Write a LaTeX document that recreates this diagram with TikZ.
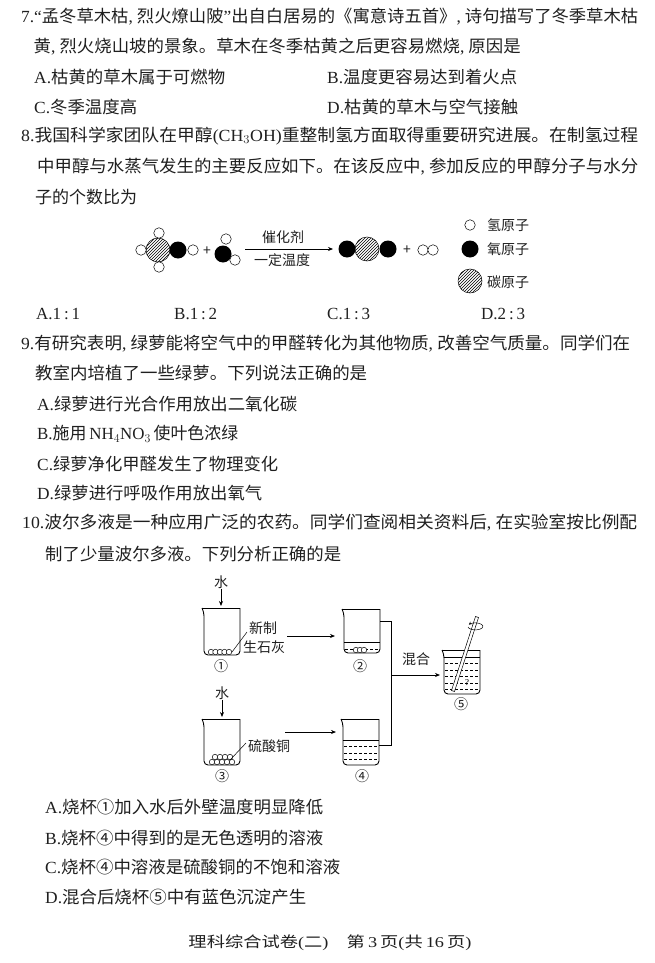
\documentclass[tikz,border=0pt]{standalone}
\usepackage{fontspec}
\usetikzlibrary{patterns,arrows.meta}
\setmainfont{Noto Sans CJK SC}
\newfontfamily\latfont{Liberation Serif}
\newcommand{\lat}[1]{{\latfont #1}}
\newcommand{\cma}{\lat{,}\hspace{4pt}}
\newcommand{\fitw}[2]{\resizebox{#1pt}{\height}{#2}}
\tikzset{
  txt/.style={anchor=west,inner sep=0pt,font=\fontsize{17}{20}\selectfont,text=black!88},
  lab/.style={inner sep=0pt,font=\fontsize{14}{16}\selectfont,text=black!88},
  hatom/.style={circle,draw,fill=white,inner sep=0pt,minimum size=10.5pt,line width=0.5pt},
  oatom/.style={circle,fill=black,inner sep=0pt,minimum size=17pt},
  catom/.style={circle,draw,pattern=north east lines,inner sep=0pt,minimum size=24pt,line width=0.5pt},
  ball/.style={circle,draw,fill=white,inner sep=0pt,minimum size=5.5pt,line width=0.5pt},
  arr/.style={-{Stealth[length=5pt,width=4pt]},line width=0.7pt},
  soln/.style={dashed,dash pattern=on 3pt off 2pt,line width=0.5pt}
}
\newcommand{\beaker}[3]{% left, top, bottom
  \draw[line width=0.9pt] (#1-2,#2) -- (#1+36,#2);
  \draw[line width=0.9pt,rounded corners=4pt] (#1+36,#2) -- (#1+36,#3) -- (#1,#3) -- (#1,#2+4) -- (#1-2,#2);
}
\begin{document}
\begin{tikzpicture}[x=1pt,y=-1pt]
  \useasboundingbox (0,0) rectangle (655,963);

  % question 7
  \node[txt] (q7a) at (21,17) {\fitw{617}{\lat{7.“}孟冬草木枯\cma 烈火燎山陂\lat{”}出自白居易的《寓意诗五首》\cma 诗句描写了冬季草木枯}};
  \node[txt] (q7b) at (33.5,47) {\fitw{487}{黄\cma 烈火烧山坡的景象。草木在冬季枯黄之后更容易燃烧\cma 原因是}};
  \node[txt] (q7c) at (34,77) {\fitw{191}{\lat{A.}枯黄的草木属于可燃物}};
  \node[txt] (q7d) at (327,77) {\fitw{190}{\lat{B.}温度更容易达到着火点}};
  \node[txt] (q7e) at (34,107) {\fitw{103}{\lat{C.}冬季温度高}};
  \node[txt] (q7f) at (327,107) {\fitw{191}{\lat{D.}枯黄的草木与空气接触}};

  % question 8
  \node[txt] (q8a) at (21,136) {\fitw{617}{\lat{8.}我国科学家团队在甲醇\lat{(CH$_3$OH)}重整制氢方面取得重要研究进展。在制氢过程}};
  \node[txt] (q8b) at (37,167) {\fitw{601}{中甲醇与水蒸气发生的主要反应如下。在该反应中\cma 参加反应的甲醇分子与水分}};
  \node[txt] (q8c) at (35,197) {\fitw{102}{子的个数比为}};

  \node[catom] (c1) at (158,250) {};
  \node[oatom] (o1) at (178,250) {};
  \node[hatom] (h1) at (141,250) {};
  \node[hatom] (h2) at (159,233) {};
  \node[hatom] (h3) at (159,267) {};
  \node[hatom] (h4) at (193,250) {};
  \node[lab] (p1) at (207,251) {+};
  \node[oatom] (o2) at (223,254) {};
  \node[hatom] (h5) at (226,239) {};
  \node[hatom] (h6) at (235,260) {};
  \coordinate (rs) at (245,249);
  \coordinate (re) at (333,249);
  \draw[arr] (rs) -- (re);
  \node[lab] (cat) at (283,237) {催化剂};
  \node[lab] (tem) at (282,260) {一定温度};
  \node[oatom] (o3) at (347,249) {};
  \node[oatom] (o4) at (388,249) {};
  \node[catom] (c2) at (367,249) {};
  \node[lab] (p2) at (407,250) {+};
  \node[hatom] (h7) at (423,250) {};
  \node[hatom] (h8) at (433,250) {};
  \node[hatom] (lh) at (470,225) {};
  \node[oatom] (lo) at (470,249) {};
  \node[catom] (lc) at (470,281) {};
  \node[lab] (lht) at (508,225) {氢原子};
  \node[lab] (lot) at (508,249) {氧原子};
  \node[lab] (lct) at (508,282) {碳原子};

  \node[txt] (a8a) at (36,314) {\lat{A.1\,:\,1}};
  \node[txt] (a8b) at (174,314) {\lat{B.1\,:\,2}};
  \node[txt] (a8c) at (327,314) {\lat{C.1\,:\,3}};
  \node[txt] (a8d) at (481,314) {\lat{D.2\,:\,3}};

  % question 9
  \node[txt] (q9a) at (21,344) {\fitw{609}{\lat{9.}有研究表明\cma 绿萝能将空气中的甲醛转化为其他物质\cma 改善空气质量。同学们在}};
  \node[txt] (q9b) at (35,373) {\fitw{332}{教室内培植了一些绿萝。下列说法正确的是}};
  \node[txt] (q9c) at (37,404) {\fitw{260}{\lat{A.}绿萝进行光合作用放出二氧化碳}};
  \node[txt] (q9d) at (37,434) {\fitw{201}{\lat{B.}施用\,\lat{NH$_4$NO$_3$}\,使叶色浓绿}};
  \node[txt] (q9e) at (37,464) {\fitw{241}{\lat{C.}绿萝净化甲醛发生了物理变化}};
  \node[txt] (q9f) at (37,493) {\fitw{225}{\lat{D.}绿萝进行呼吸作用放出氧气}};

  % question 10
  \node[txt] (q10a) at (22,523) {\fitw{615}{\lat{10.}波尔多液是一种应用广泛的农药。同学们查阅相关资料后\cma 在实验室按比例配}};
  \node[txt] (q10b) at (45,554) {\fitw{296}{制了少量波尔多液。下列分析正确的是}};

  % beakers
  \beaker{204}{608}{655}
  \beaker{344}{609}{653}
  \beaker{204}{719}{765}
  \beaker{343}{719}{765}
  \beaker{444}{650}{694}

  \node[lab] (w1) at (221,582) {水};
  \coordinate (w1e) at (221,606);
  \draw[arr] (w1) -- (w1e);
  \foreach \x in {211,215.5,220,224.5,229} \node[ball] at (\x,652) {};
  \coordinate (l1a) at (232,652);
  \coordinate (l1b) at (247,632);
  \draw[line width=0.5pt] (l1a) -- (l1b);
  \node[lab] (n1) at (263,628) {新制};
  \node[lab] (n2) at (264,647) {生石灰};
  \node[lab] (b1) at (221,666) {①};
  \coordinate (a1s) at (287,636);
  \coordinate (a1e) at (335,636);
  \draw[arr] (a1s) -- (a1e);

  \draw[line width=0.6pt] (344,642) -- (380,642);
  \draw[soln] (345,649) -- (379,649);
  \foreach \x in {356,360,364} \node[ball] at (\x,650) {};
  \node[lab] (b2) at (360,666) {②};

  \node[lab] (w3) at (222,693) {水};
  \coordinate (w3e) at (222,717);
  \draw[arr] (w3) -- (w3e);
  \foreach \x in {212,217,222,227,232} \node[ball] at (\x,762) {};
  \foreach \x in {215,220,225,230} \node[ball] at (\x,757) {};
  \coordinate (l3a) at (230,760);
  \coordinate (l3b) at (246,743);
  \draw[line width=0.5pt] (l3a) -- (l3b);
  \node[lab] (n3) at (269,746) {硫酸铜};
  \node[lab] (b3) at (222,776) {③};
  \coordinate (a3s) at (285,732);
  \coordinate (a3e) at (336,732);
  \draw[arr] (a3s) -- (a3e);

  \draw[line width=0.6pt] (343,740) -- (379,740);
  \foreach \y in {746,753,759} \draw[soln] (344,\y) -- (378,\y);
  \node[lab] (b4) at (362,776) {④};

  % mixing
  \coordinate (t2) at (380,621);
  \coordinate (t4) at (379,745);
  \coordinate (jt) at (391,675);
  \coordinate (a5e) at (440,675);
  \draw[line width=0.7pt] (t2) -| (391,745) -- (t4);
  \draw[arr] (jt) -- (a5e);
  \node[lab] (mix) at (416,659) {混合};

  \draw[line width=0.6pt] (444,657) -- (480,657);
  \foreach \y in {663,670,676,683,689} \draw[soln] (445,\y) -- (479,\y);
  \draw[fill=white,line width=0.5pt] (451.5,690.5) -- (475.5,616.5) -- (478.5,617.5) -- (454.5,691.5) -- cycle;
  \draw[-{Stealth[length=3pt,width=3pt]},line width=0.5pt] (468,627) arc[start angle=170,end angle=-150,x radius=7.5,y radius=3.5];
  \node[inner sep=0pt,font=\fontsize{9}{10}\selectfont] (q) at (467,683) {\lat{?}};
  \node[lab] (b5) at (461,704) {⑤};

  % options
  \node[txt] (q10c) at (45,807) {\fitw{278}{\lat{A.}烧杯①加入水后外壁温度明显降低}};
  \node[txt] (q10d) at (45,838) {\fitw{278}{\lat{B.}烧杯④中得到的是无色透明的溶液}};
  \node[txt] (q10e) at (45,867) {\fitw{295}{\lat{C.}烧杯④中溶液是硫酸铜的不饱和溶液}};
  \node[txt] (q10f) at (45,897) {\fitw{261}{\lat{D.}混合后烧杯⑤中有蓝色沉淀产生}};

  \node[inner sep=0pt,font=\fontsize{15}{17}\selectfont,text=black!88] (foot) at (330,943) {\fitw{283}{理科综合试卷\lat{(}二\lat{)}\quad 第\,\lat{3}\,页\lat{(}共\,\lat{16}\,页\lat{)}}};
\end{tikzpicture}
\end{document}
